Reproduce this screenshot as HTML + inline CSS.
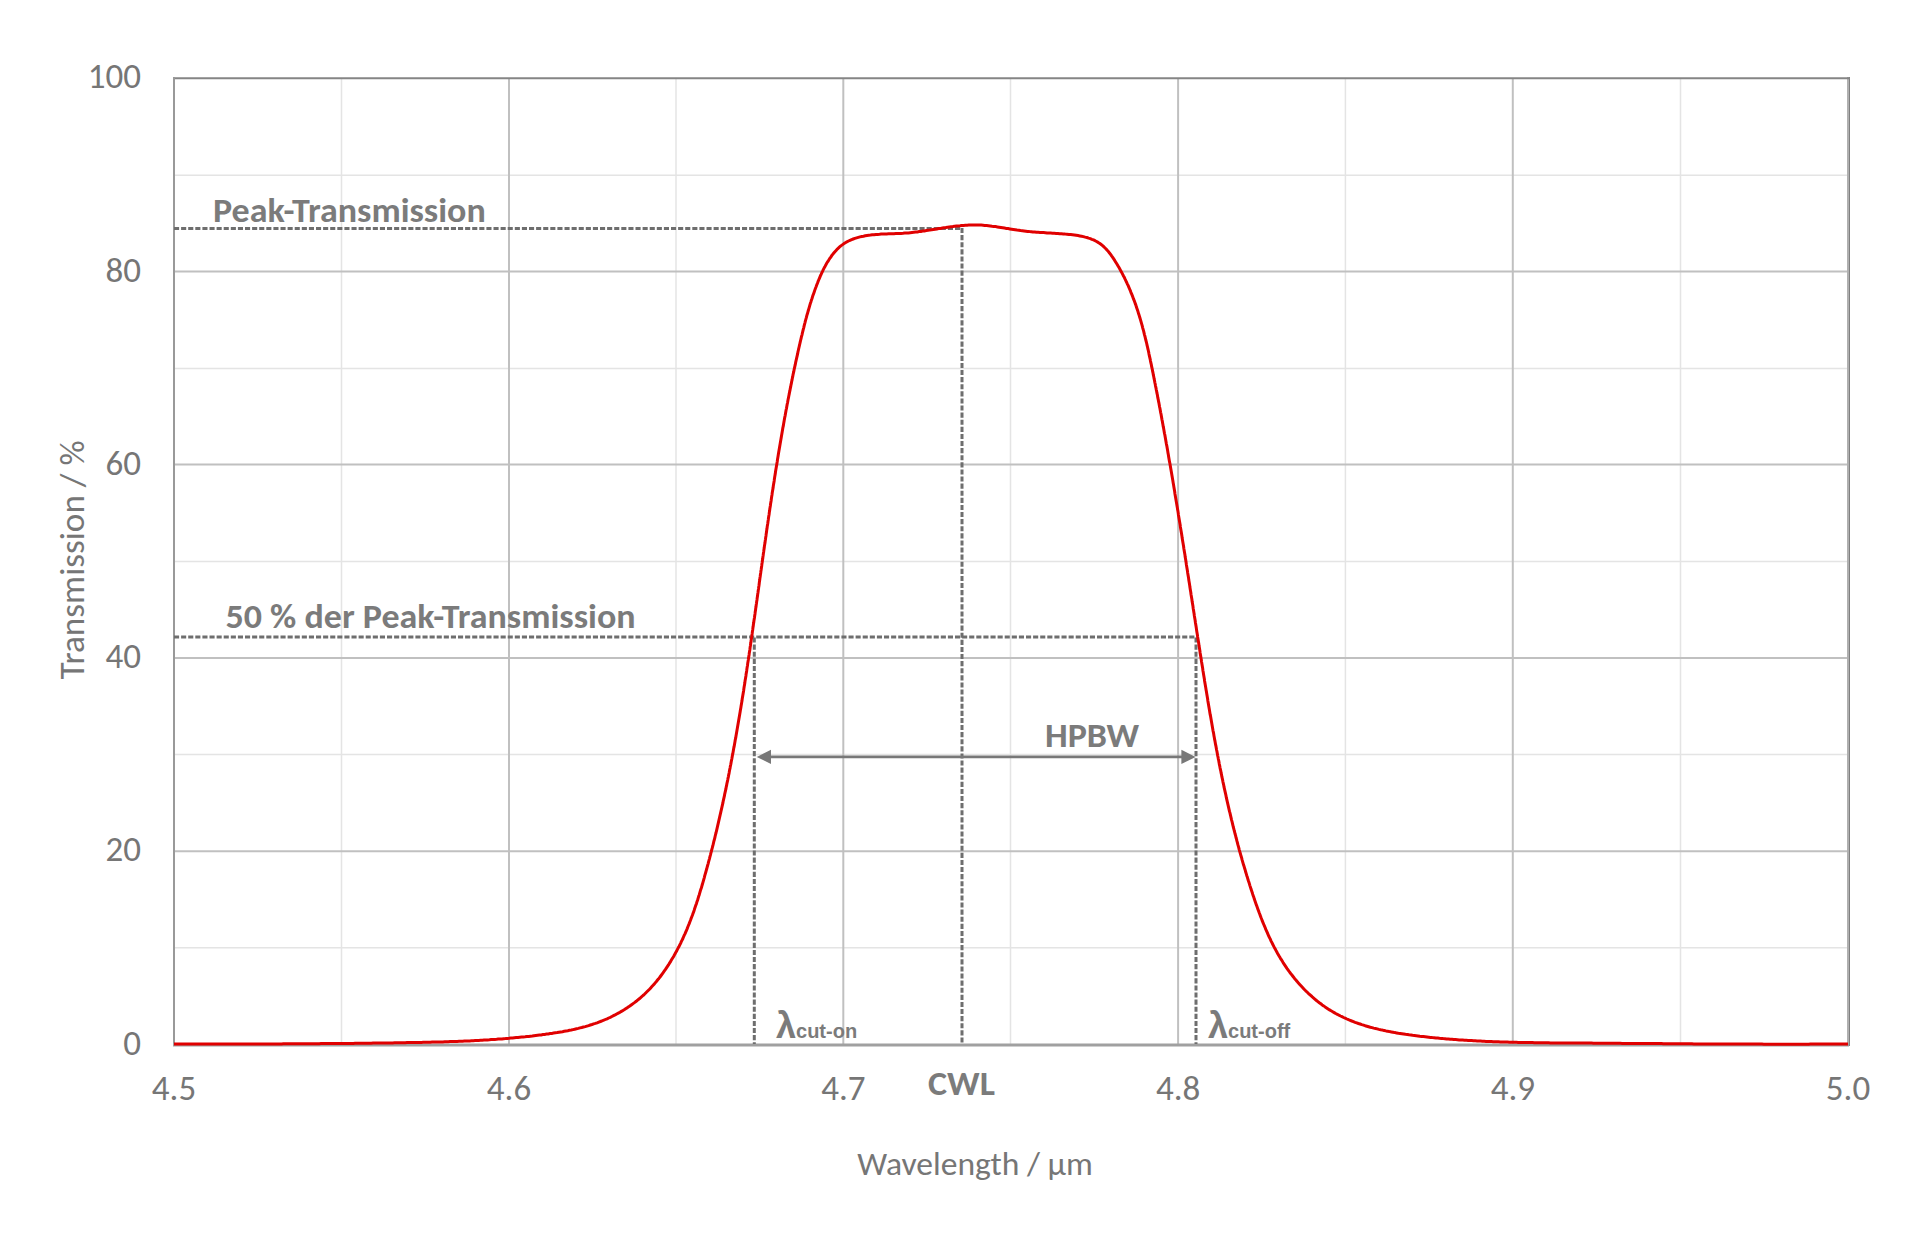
<!DOCTYPE html>
<html><head><meta charset="utf-8"><title>Transmission</title>
<style>html,body{margin:0;padding:0;background:#fff;}svg{display:block;}</style>
</head><body>
<svg width="1920" height="1238" viewBox="0 0 1920 1238">
<rect width="1920" height="1238" fill="#fff"/>
<line x1="341.5" y1="78" x2="341.5" y2="1044" stroke="#e4e4e4" stroke-width="1.5"/>
<line x1="676" y1="78" x2="676" y2="1044" stroke="#e4e4e4" stroke-width="1.5"/>
<line x1="1010.5" y1="78" x2="1010.5" y2="1044" stroke="#e4e4e4" stroke-width="1.5"/>
<line x1="1345.4" y1="78" x2="1345.4" y2="1044" stroke="#e4e4e4" stroke-width="1.5"/>
<line x1="1680.5" y1="78" x2="1680.5" y2="1044" stroke="#e4e4e4" stroke-width="1.5"/>
<line x1="174" y1="175.2" x2="1848" y2="175.2" stroke="#e4e4e4" stroke-width="1.5"/>
<line x1="174" y1="368.4" x2="1848" y2="368.4" stroke="#e4e4e4" stroke-width="1.5"/>
<line x1="174" y1="561.5" x2="1848" y2="561.5" stroke="#e4e4e4" stroke-width="1.5"/>
<line x1="174" y1="754.4" x2="1848" y2="754.4" stroke="#e4e4e4" stroke-width="1.5"/>
<line x1="174" y1="947.8" x2="1848" y2="947.8" stroke="#e4e4e4" stroke-width="1.5"/>
<line x1="509" y1="78" x2="509" y2="1044" stroke="#c0c0c0" stroke-width="2"/>
<line x1="843.3" y1="78" x2="843.3" y2="1044" stroke="#c0c0c0" stroke-width="2"/>
<line x1="1178.1" y1="78" x2="1178.1" y2="1044" stroke="#c0c0c0" stroke-width="2"/>
<line x1="1512.8" y1="78" x2="1512.8" y2="1044" stroke="#c0c0c0" stroke-width="2"/>
<line x1="174" y1="271.6" x2="1848" y2="271.6" stroke="#c0c0c0" stroke-width="2"/>
<line x1="174" y1="464.6" x2="1848" y2="464.6" stroke="#c0c0c0" stroke-width="2"/>
<line x1="174" y1="657.9" x2="1848" y2="657.9" stroke="#c0c0c0" stroke-width="2"/>
<line x1="174" y1="851.2" x2="1848" y2="851.2" stroke="#c0c0c0" stroke-width="2"/>
<line x1="1848" y1="77" x2="1848" y2="1046" stroke="#b0b0b0" stroke-width="2"/>
<line x1="1849.5" y1="77" x2="1849.5" y2="1046" stroke="#808080" stroke-width="1"/>
<line x1="173" y1="78.3" x2="1850" y2="78.3" stroke="#858585" stroke-width="2"/>
<line x1="174" y1="77" x2="174" y2="1046" stroke="#999" stroke-width="2"/>
<line x1="173" y1="1045" x2="1849" y2="1045" stroke="#a0a0a0" stroke-width="3"/>
<line x1="174" y1="228.5" x2="962" y2="228.5" stroke="#6e6e6e" stroke-width="3" stroke-dasharray="5.1 2"/>
<line x1="962" y1="228" x2="962" y2="1044" stroke="#6e6e6e" stroke-width="3" stroke-dasharray="5.1 2"/>
<line x1="174" y1="637" x2="1196" y2="637" stroke="#6e6e6e" stroke-width="3" stroke-dasharray="5.1 2"/>
<line x1="754.3" y1="637.5" x2="754.3" y2="1044" stroke="#6e6e6e" stroke-width="3" stroke-dasharray="5.1 2"/>
<line x1="1196" y1="637.5" x2="1196" y2="1044" stroke="#6e6e6e" stroke-width="3" stroke-dasharray="5.1 2"/>
<line x1="768" y1="756.9" x2="1184" y2="756.9" stroke="#787878" stroke-width="2.6"/>
<path d="M756.8,756.9 L771,749.8 L771,764 Z" fill="#787878"/>
<path d="M1195.6,756.9 L1181.4,749.8 L1181.4,764 Z" fill="#787878"/>
<path d="M174.0,1044.0 L175.8,1044.0 L177.6,1044.0 L179.4,1044.0 L181.2,1044.0 L183.0,1044.0 L184.8,1044.0 L186.5,1044.0 L188.3,1044.0 L190.1,1044.0 L191.9,1044.0 L193.7,1044.0 L195.5,1044.0 L197.3,1044.0 L199.1,1044.0 L200.9,1044.0 L202.7,1044.0 L204.5,1044.0 L206.3,1044.0 L208.1,1044.0 L209.9,1044.0 L211.6,1044.0 L213.4,1044.0 L215.2,1044.0 L217.0,1044.0 L218.8,1044.0 L220.6,1044.0 L222.4,1044.0 L224.2,1044.0 L226.0,1044.0 L227.8,1044.0 L229.6,1044.0 L231.4,1044.0 L233.2,1044.0 L234.9,1044.0 L236.7,1044.0 L238.5,1044.0 L240.3,1044.0 L242.1,1044.0 L243.9,1044.0 L245.7,1044.0 L247.5,1044.0 L249.3,1044.0 L251.1,1044.0 L252.9,1043.9 L254.7,1043.9 L256.5,1043.9 L258.3,1043.9 L260.0,1043.9 L261.8,1043.9 L263.6,1043.9 L265.4,1043.9 L267.2,1043.9 L269.0,1043.9 L270.8,1043.9 L272.6,1043.9 L274.4,1043.9 L276.2,1043.9 L278.0,1043.9 L279.8,1043.9 L281.6,1043.9 L283.3,1043.8 L285.1,1043.8 L286.9,1043.8 L288.7,1043.8 L290.5,1043.8 L292.3,1043.8 L294.1,1043.8 L295.9,1043.8 L297.7,1043.8 L299.5,1043.8 L301.3,1043.8 L303.1,1043.8 L304.9,1043.7 L306.7,1043.7 L308.4,1043.7 L310.2,1043.7 L312.0,1043.7 L313.8,1043.7 L315.6,1043.7 L317.4,1043.7 L319.2,1043.7 L321.0,1043.6 L322.8,1043.6 L324.6,1043.6 L326.4,1043.6 L328.2,1043.6 L330.0,1043.6 L331.7,1043.6 L333.5,1043.5 L335.3,1043.5 L337.1,1043.5 L338.9,1043.5 L340.7,1043.5 L342.5,1043.5 L344.3,1043.5 L346.1,1043.4 L347.9,1043.4 L349.7,1043.4 L351.5,1043.4 L353.3,1043.4 L355.0,1043.3 L356.8,1043.3 L358.6,1043.3 L360.4,1043.3 L362.2,1043.3 L364.0,1043.2 L365.8,1043.2 L367.6,1043.2 L369.4,1043.2 L371.2,1043.2 L373.0,1043.1 L374.8,1043.1 L376.6,1043.1 L378.4,1043.1 L380.1,1043.0 L381.9,1043.0 L383.7,1043.0 L385.5,1043.0 L387.3,1043.0 L389.1,1042.9 L390.9,1042.9 L392.7,1042.9 L394.5,1042.8 L396.3,1042.8 L398.1,1042.8 L399.9,1042.8 L401.7,1042.7 L403.4,1042.7 L405.2,1042.7 L407.0,1042.6 L408.8,1042.6 L410.6,1042.6 L412.4,1042.6 L414.2,1042.5 L416.0,1042.5 L417.8,1042.5 L419.6,1042.4 L421.4,1042.4 L423.2,1042.3 L425.0,1042.3 L426.7,1042.3 L428.5,1042.2 L430.3,1042.2 L432.1,1042.1 L433.9,1042.1 L435.7,1042.1 L437.5,1042.0 L439.3,1042.0 L441.1,1041.9 L442.9,1041.9 L444.7,1041.8 L446.5,1041.7 L448.2,1041.7 L450.0,1041.6 L451.8,1041.6 L453.6,1041.5 L455.4,1041.4 L457.2,1041.4 L459.0,1041.3 L460.8,1041.2 L462.6,1041.2 L464.4,1041.1 L466.2,1041.0 L467.9,1040.9 L469.7,1040.9 L471.5,1040.8 L473.3,1040.7 L475.1,1040.6 L476.9,1040.5 L478.7,1040.4 L480.5,1040.3 L482.3,1040.2 L484.0,1040.1 L485.8,1040.0 L487.6,1039.9 L489.4,1039.8 L491.2,1039.6 L493.0,1039.5 L494.8,1039.4 L496.6,1039.3 L498.3,1039.1 L500.1,1039.0 L501.9,1038.9 L503.7,1038.7 L505.5,1038.6 L507.3,1038.4 L509.1,1038.3 L510.8,1038.1 L512.6,1038.0 L514.4,1037.8 L516.2,1037.6 L518.0,1037.5 L519.8,1037.3 L521.6,1037.1 L523.3,1036.9 L525.1,1036.8 L526.9,1036.6 L528.7,1036.4 L530.5,1036.2 L532.3,1036.0 L534.0,1035.7 L535.8,1035.5 L537.6,1035.3 L539.4,1035.1 L541.2,1034.9 L542.9,1034.6 L544.7,1034.4 L546.5,1034.1 L548.3,1033.9 L550.1,1033.6 L551.8,1033.4 L553.6,1033.1 L555.4,1032.8 L557.2,1032.6 L558.9,1032.3 L560.7,1032.0 L562.5,1031.7 L564.2,1031.3 L566.0,1031.0 L567.8,1030.7 L569.5,1030.3 L571.3,1030.0 L573.0,1029.6 L574.8,1029.2 L576.5,1028.8 L578.3,1028.4 L580.0,1027.9 L581.7,1027.5 L583.5,1027.0 L585.2,1026.6 L586.9,1026.1 L588.6,1025.6 L590.3,1025.0 L592.0,1024.5 L593.7,1023.9 L595.4,1023.4 L597.1,1022.8 L598.8,1022.1 L600.4,1021.5 L602.1,1020.8 L603.8,1020.2 L605.4,1019.5 L607.1,1018.8 L608.7,1018.0 L610.3,1017.3 L611.9,1016.5 L613.5,1015.7 L615.1,1014.9 L616.7,1014.0 L618.3,1013.1 L619.9,1012.3 L621.4,1011.4 L623.0,1010.4 L624.5,1009.5 L626.0,1008.5 L627.5,1007.6 L629.0,1006.6 L630.5,1005.5 L631.9,1004.5 L633.4,1003.4 L634.8,1002.4 L636.2,1001.3 L637.6,1000.1 L639.0,999.0 L640.4,997.8 L641.7,996.7 L643.0,995.5 L644.4,994.3 L645.7,993.0 L646.9,991.8 L648.2,990.5 L649.5,989.2 L650.7,987.9 L651.9,986.6 L653.1,985.3 L654.3,983.9 L655.4,982.6 L656.6,981.2 L657.7,979.8 L658.9,978.4 L660.0,977.0 L661.1,975.5 L662.1,974.1 L663.2,972.6 L664.2,971.2 L665.3,969.7 L666.3,968.2 L667.3,966.7 L668.3,965.2 L669.2,963.7 L670.2,962.2 L671.1,960.6 L672.0,959.1 L673.0,957.5 L673.9,956.0 L674.7,954.4 L675.6,952.8 L676.5,951.3 L677.3,949.7 L678.1,948.1 L679.0,946.5 L679.8,944.9 L680.6,943.3 L681.3,941.7 L682.1,940.1 L682.9,938.5 L683.6,936.8 L684.3,935.2 L685.1,933.6 L685.8,931.9 L686.5,930.3 L687.2,928.6 L687.8,927.0 L688.5,925.3 L689.2,923.6 L689.8,922.0 L690.5,920.3 L691.1,918.6 L691.7,917.0 L692.4,915.3 L693.0,913.6 L693.6,911.9 L694.2,910.2 L694.7,908.5 L695.3,906.8 L695.9,905.1 L696.5,903.4 L697.0,901.7 L697.6,900.0 L698.1,898.3 L698.6,896.6 L699.2,894.9 L699.7,893.2 L700.2,891.4 L700.7,889.7 L701.3,888.0 L701.8,886.3 L702.3,884.5 L702.8,882.8 L703.3,881.1 L703.8,879.4 L704.3,877.6 L704.7,875.9 L705.2,874.2 L705.7,872.5 L706.2,870.7 L706.7,869.0 L707.1,867.3 L707.6,865.5 L708.1,863.8 L708.5,862.1 L709.0,860.3 L709.5,858.6 L709.9,856.9 L710.4,855.1 L710.8,853.4 L711.3,851.7 L711.7,849.9 L712.2,848.2 L712.6,846.5 L713.1,844.7 L713.5,843.0 L713.9,841.2 L714.4,839.5 L714.8,837.8 L715.2,836.0 L715.6,834.3 L716.1,832.5 L716.5,830.8 L716.9,829.1 L717.3,827.3 L717.7,825.6 L718.1,823.8 L718.5,822.1 L718.9,820.3 L719.3,818.6 L719.7,816.9 L720.1,815.1 L720.5,813.4 L720.9,811.6 L721.3,809.9 L721.7,808.1 L722.1,806.4 L722.5,804.6 L722.9,802.9 L723.2,801.1 L723.6,799.4 L724.0,797.6 L724.4,795.9 L724.7,794.1 L725.1,792.4 L725.5,790.6 L725.9,788.9 L726.2,787.1 L726.6,785.4 L726.9,783.6 L727.3,781.9 L727.7,780.1 L728.0,778.3 L728.4,776.6 L728.7,774.8 L729.1,773.1 L729.4,771.3 L729.7,769.6 L730.1,767.8 L730.4,766.0 L730.8,764.3 L731.1,762.5 L731.4,760.8 L731.8,759.0 L732.1,757.3 L732.4,755.5 L732.8,753.7 L733.1,752.0 L733.4,750.2 L733.7,748.4 L734.1,746.7 L734.4,744.9 L734.7,743.2 L735.0,741.4 L735.3,739.6 L735.7,737.9 L736.0,736.1 L736.3,734.3 L736.6,732.6 L736.9,730.8 L737.2,729.1 L737.5,727.3 L737.8,725.5 L738.1,723.8 L738.4,722.0 L738.7,720.2 L739.0,718.5 L739.3,716.7 L739.6,714.9 L739.9,713.2 L740.2,711.4 L740.5,709.6 L740.8,707.9 L741.1,706.1 L741.4,704.3 L741.7,702.6 L742.0,700.8 L742.2,699.0 L742.5,697.2 L742.8,695.5 L743.1,693.7 L743.4,691.9 L743.7,690.2 L743.9,688.4 L744.2,686.6 L744.5,684.9 L744.8,683.1 L745.0,681.3 L745.3,679.5 L745.6,677.8 L745.9,676.0 L746.1,674.2 L746.4,672.4 L746.7,670.7 L746.9,668.9 L747.2,667.1 L747.5,665.4 L747.7,663.6 L748.0,661.8 L748.3,660.0 L748.5,658.3 L748.8,656.5 L749.1,654.7 L749.3,652.9 L749.6,651.2 L749.9,649.4 L750.1,647.6 L750.4,645.8 L750.6,644.1 L750.9,642.3 L751.1,640.5 L751.4,638.7 L751.7,637.0 L751.9,635.2 L752.2,633.4 L752.4,631.6 L752.7,629.9 L752.9,628.1 L753.2,626.3 L753.4,624.5 L753.7,622.8 L753.9,621.0 L754.2,619.2 L754.5,617.4 L754.7,615.7 L755.0,613.9 L755.2,612.1 L755.5,610.3 L755.7,608.5 L756.0,606.8 L756.2,605.0 L756.5,603.2 L756.7,601.4 L757.0,599.7 L757.2,597.9 L757.5,596.1 L757.7,594.3 L758.0,592.5 L758.2,590.8 L758.5,589.0 L758.7,587.2 L759.0,585.4 L759.2,583.7 L759.4,581.9 L759.7,580.1 L759.9,578.3 L760.2,576.5 L760.4,574.8 L760.7,573.0 L760.9,571.2 L761.2,569.4 L761.4,567.7 L761.7,565.9 L761.9,564.1 L762.2,562.3 L762.4,560.6 L762.7,558.8 L762.9,557.0 L763.2,555.2 L763.4,553.4 L763.7,551.7 L763.9,549.9 L764.2,548.1 L764.4,546.3 L764.7,544.6 L765.0,542.8 L765.2,541.0 L765.5,539.2 L765.7,537.4 L766.0,535.7 L766.2,533.9 L766.5,532.1 L766.7,530.3 L767.0,528.6 L767.2,526.8 L767.5,525.0 L767.8,523.2 L768.0,521.5 L768.3,519.7 L768.5,517.9 L768.8,516.1 L769.1,514.4 L769.3,512.6 L769.6,510.8 L769.8,509.0 L770.1,507.3 L770.4,505.5 L770.6,503.7 L770.9,501.9 L771.2,500.2 L771.4,498.4 L771.7,496.6 L772.0,494.8 L772.2,493.1 L772.5,491.3 L772.8,489.5 L773.1,487.8 L773.3,486.0 L773.6,484.2 L773.9,482.4 L774.2,480.7 L774.4,478.9 L774.7,477.1 L775.0,475.3 L775.3,473.6 L775.5,471.8 L775.8,470.0 L776.1,468.3 L776.4,466.5 L776.7,464.7 L777.0,463.0 L777.3,461.2 L777.5,459.4 L777.8,457.7 L778.1,455.9 L778.4,454.1 L778.7,452.3 L779.0,450.6 L779.3,448.8 L779.6,447.0 L779.9,445.3 L780.2,443.5 L780.5,441.7 L780.8,440.0 L781.1,438.2 L781.4,436.5 L781.7,434.7 L782.0,432.9 L782.3,431.2 L782.6,429.4 L782.9,427.6 L783.3,425.9 L783.6,424.1 L783.9,422.3 L784.2,420.6 L784.5,418.8 L784.8,417.1 L785.2,415.3 L785.5,413.5 L785.8,411.8 L786.1,410.0 L786.5,408.3 L786.8,406.5 L787.1,404.7 L787.5,403.0 L787.8,401.2 L788.1,399.5 L788.5,397.7 L788.8,396.0 L789.2,394.2 L789.5,392.4 L789.9,390.7 L790.2,388.9 L790.6,387.2 L790.9,385.4 L791.3,383.7 L791.6,381.9 L792.0,380.2 L792.3,378.4 L792.7,376.7 L793.0,374.9 L793.4,373.2 L793.8,371.4 L794.1,369.7 L794.5,367.9 L794.9,366.2 L795.3,364.4 L795.6,362.7 L796.0,360.9 L796.4,359.2 L796.8,357.4 L797.2,355.7 L797.6,353.9 L797.9,352.2 L798.3,350.5 L798.7,348.7 L799.1,347.0 L799.5,345.2 L799.9,343.5 L800.3,341.7 L800.7,340.0 L801.1,338.3 L801.5,336.5 L802.0,334.8 L802.4,333.0 L802.8,331.3 L803.2,329.6 L803.7,327.8 L804.1,326.1 L804.5,324.4 L805.0,322.6 L805.4,320.9 L805.9,319.2 L806.4,317.4 L806.8,315.7 L807.3,314.0 L807.8,312.3 L808.3,310.5 L808.8,308.8 L809.3,307.1 L809.8,305.4 L810.3,303.6 L810.9,301.9 L811.4,300.2 L812.0,298.5 L812.5,296.8 L813.1,295.1 L813.7,293.4 L814.3,291.7 L814.9,289.9 L815.5,288.2 L816.2,286.5 L816.8,284.8 L817.5,283.1 L818.1,281.4 L818.8,279.7 L819.5,278.1 L820.2,276.4 L821.0,274.7 L821.7,273.0 L822.5,271.4 L823.3,269.7 L824.1,268.1 L825.0,266.5 L825.8,264.9 L826.7,263.3 L827.6,261.8 L828.6,260.3 L829.6,258.7 L830.6,257.3 L831.6,255.8 L832.7,254.4 L833.8,253.0 L834.9,251.7 L836.1,250.4 L837.3,249.1 L838.6,247.9 L839.9,246.7 L841.2,245.6 L842.6,244.6 L844.0,243.6 L845.4,242.7 L846.9,241.8 L848.5,241.0 L850.0,240.3 L851.6,239.6 L853.2,239.0 L854.9,238.4 L856.6,237.9 L858.3,237.4 L860.0,236.9 L861.7,236.5 L863.5,236.2 L865.2,235.8 L867.0,235.5 L868.8,235.3 L870.5,235.1 L872.3,234.8 L874.1,234.7 L875.9,234.5 L877.7,234.4 L879.5,234.3 L881.3,234.1 L883.1,234.1 L884.9,234.0 L886.7,233.9 L888.5,233.8 L890.4,233.8 L892.2,233.7 L894.0,233.7 L895.8,233.6 L897.6,233.5 L899.4,233.4 L901.2,233.4 L903.0,233.3 L904.8,233.1 L906.6,233.0 L908.4,232.9 L910.2,232.7 L912.0,232.5 L913.8,232.3 L915.6,232.1 L917.4,231.9 L919.2,231.6 L920.9,231.4 L922.7,231.1 L924.5,230.9 L926.3,230.6 L928.1,230.3 L929.8,230.1 L931.6,229.8 L933.4,229.5 L935.2,229.2 L936.9,228.9 L938.7,228.6 L940.5,228.4 L942.3,228.1 L944.0,227.8 L945.8,227.6 L947.6,227.3 L949.3,227.0 L951.1,226.8 L952.9,226.6 L954.6,226.3 L956.4,226.1 L958.2,225.9 L960.0,225.8 L961.7,225.6 L963.5,225.4 L965.3,225.3 L967.1,225.2 L968.8,225.1 L970.6,225.0 L972.4,225.0 L974.2,225.0 L975.9,225.0 L977.7,225.0 L979.5,225.1 L981.3,225.1 L983.1,225.2 L984.8,225.4 L986.6,225.5 L988.4,225.7 L990.2,225.9 L992.0,226.2 L993.8,226.4 L995.6,226.6 L997.4,226.9 L999.1,227.2 L1000.9,227.5 L1002.7,227.8 L1004.5,228.1 L1006.3,228.4 L1008.1,228.6 L1009.9,228.9 L1011.6,229.2 L1013.4,229.5 L1015.2,229.8 L1017.0,230.1 L1018.8,230.3 L1020.5,230.6 L1022.3,230.8 L1024.1,231.0 L1025.9,231.2 L1027.6,231.4 L1029.4,231.6 L1031.2,231.7 L1032.9,231.9 L1034.7,232.0 L1036.5,232.2 L1038.2,232.3 L1040.0,232.4 L1041.8,232.5 L1043.6,232.6 L1045.3,232.7 L1047.1,232.9 L1048.9,233.0 L1050.7,233.1 L1052.5,233.2 L1054.3,233.3 L1056.1,233.4 L1057.9,233.5 L1059.7,233.7 L1061.5,233.8 L1063.3,233.9 L1065.2,234.1 L1067.0,234.2 L1068.9,234.4 L1070.7,234.6 L1072.5,234.8 L1074.4,235.0 L1076.2,235.3 L1078.0,235.6 L1079.8,235.9 L1081.6,236.2 L1083.4,236.6 L1085.2,237.1 L1086.9,237.5 L1088.6,238.1 L1090.3,238.6 L1091.9,239.3 L1093.5,239.9 L1095.1,240.7 L1096.6,241.5 L1098.1,242.4 L1099.5,243.3 L1100.9,244.3 L1102.3,245.4 L1103.6,246.5 L1104.8,247.7 L1106.1,249.0 L1107.2,250.3 L1108.4,251.6 L1109.5,253.0 L1110.6,254.4 L1111.6,255.9 L1112.7,257.4 L1113.7,258.9 L1114.7,260.4 L1115.6,261.9 L1116.6,263.5 L1117.5,265.0 L1118.4,266.6 L1119.3,268.1 L1120.2,269.7 L1121.0,271.3 L1121.9,272.8 L1122.7,274.4 L1123.5,276.0 L1124.4,277.6 L1125.1,279.2 L1125.9,280.8 L1126.7,282.5 L1127.4,284.1 L1128.2,285.7 L1128.9,287.3 L1129.6,289.0 L1130.3,290.6 L1130.9,292.3 L1131.6,293.9 L1132.3,295.6 L1132.9,297.2 L1133.5,298.9 L1134.2,300.6 L1134.8,302.3 L1135.4,303.9 L1136.0,305.6 L1136.5,307.3 L1137.1,309.0 L1137.7,310.7 L1138.2,312.4 L1138.7,314.1 L1139.3,315.8 L1139.8,317.5 L1140.3,319.2 L1140.8,320.9 L1141.3,322.7 L1141.8,324.4 L1142.3,326.1 L1142.7,327.8 L1143.2,329.6 L1143.7,331.3 L1144.1,333.1 L1144.5,334.8 L1145.0,336.5 L1145.4,338.3 L1145.8,340.0 L1146.3,341.8 L1146.7,343.5 L1147.1,345.3 L1147.5,347.0 L1147.9,348.8 L1148.3,350.5 L1148.7,352.3 L1149.0,354.1 L1149.4,355.8 L1149.8,357.6 L1150.2,359.3 L1150.5,361.1 L1150.9,362.9 L1151.3,364.6 L1151.6,366.4 L1152.0,368.2 L1152.4,369.9 L1152.7,371.7 L1153.1,373.4 L1153.4,375.2 L1153.8,377.0 L1154.1,378.7 L1154.5,380.5 L1154.8,382.3 L1155.2,384.0 L1155.5,385.8 L1155.9,387.6 L1156.2,389.3 L1156.6,391.1 L1156.9,392.9 L1157.3,394.6 L1157.6,396.4 L1157.9,398.2 L1158.3,399.9 L1158.6,401.7 L1159.0,403.4 L1159.3,405.2 L1159.6,407.0 L1160.0,408.7 L1160.3,410.5 L1160.6,412.3 L1161.0,414.0 L1161.3,415.8 L1161.6,417.6 L1161.9,419.3 L1162.3,421.1 L1162.6,422.9 L1162.9,424.6 L1163.2,426.4 L1163.6,428.2 L1163.9,429.9 L1164.2,431.7 L1164.5,433.5 L1164.9,435.2 L1165.2,437.0 L1165.5,438.7 L1165.8,440.5 L1166.1,442.3 L1166.4,444.0 L1166.8,445.8 L1167.1,447.6 L1167.4,449.3 L1167.7,451.1 L1168.0,452.9 L1168.3,454.6 L1168.6,456.4 L1168.9,458.2 L1169.2,459.9 L1169.5,461.7 L1169.9,463.5 L1170.2,465.2 L1170.5,467.0 L1170.8,468.8 L1171.1,470.5 L1171.4,472.3 L1171.7,474.1 L1172.0,475.8 L1172.3,477.6 L1172.6,479.3 L1172.9,481.1 L1173.2,482.9 L1173.5,484.6 L1173.8,486.4 L1174.1,488.2 L1174.4,489.9 L1174.7,491.7 L1174.9,493.5 L1175.2,495.2 L1175.5,497.0 L1175.8,498.8 L1176.1,500.5 L1176.4,502.3 L1176.7,504.1 L1177.0,505.8 L1177.3,507.6 L1177.6,509.4 L1177.9,511.1 L1178.2,512.9 L1178.4,514.7 L1178.7,516.4 L1179.0,518.2 L1179.3,520.0 L1179.6,521.7 L1179.9,523.5 L1180.2,525.3 L1180.4,527.0 L1180.7,528.8 L1181.0,530.6 L1181.3,532.3 L1181.6,534.1 L1181.9,535.9 L1182.1,537.6 L1182.4,539.4 L1182.7,541.2 L1183.0,542.9 L1183.3,544.7 L1183.6,546.5 L1183.8,548.2 L1184.1,550.0 L1184.4,551.8 L1184.7,553.5 L1185.0,555.3 L1185.2,557.1 L1185.5,558.8 L1185.8,560.6 L1186.1,562.4 L1186.3,564.2 L1186.6,565.9 L1186.9,567.7 L1187.2,569.5 L1187.5,571.2 L1187.7,573.0 L1188.0,574.8 L1188.3,576.5 L1188.6,578.3 L1188.8,580.1 L1189.1,581.8 L1189.4,583.6 L1189.7,585.4 L1189.9,587.1 L1190.2,588.9 L1190.5,590.7 L1190.8,592.5 L1191.0,594.2 L1191.3,596.0 L1191.6,597.8 L1191.9,599.5 L1192.1,601.3 L1192.4,603.1 L1192.7,604.8 L1193.0,606.6 L1193.2,608.4 L1193.5,610.1 L1193.8,611.9 L1194.1,613.7 L1194.3,615.5 L1194.6,617.2 L1194.9,619.0 L1195.2,620.8 L1195.4,622.5 L1195.7,624.3 L1196.0,626.1 L1196.3,627.9 L1196.5,629.6 L1196.8,631.4 L1197.1,633.2 L1197.4,634.9 L1197.6,636.7 L1197.9,638.5 L1198.2,640.2 L1198.5,642.0 L1198.8,643.8 L1199.0,645.6 L1199.3,647.3 L1199.6,649.1 L1199.9,650.9 L1200.1,652.7 L1200.4,654.4 L1200.7,656.2 L1201.0,658.0 L1201.3,659.7 L1201.5,661.5 L1201.8,663.3 L1202.1,665.1 L1202.4,666.8 L1202.7,668.6 L1202.9,670.4 L1203.2,672.1 L1203.5,673.9 L1203.8,675.7 L1204.1,677.5 L1204.4,679.2 L1204.6,681.0 L1204.9,682.8 L1205.2,684.5 L1205.5,686.3 L1205.8,688.1 L1206.1,689.9 L1206.4,691.6 L1206.7,693.4 L1207.0,695.2 L1207.3,696.9 L1207.6,698.7 L1207.8,700.5 L1208.1,702.3 L1208.4,704.0 L1208.7,705.8 L1209.0,707.6 L1209.3,709.3 L1209.6,711.1 L1209.9,712.9 L1210.2,714.7 L1210.6,716.4 L1210.9,718.2 L1211.2,720.0 L1211.5,721.7 L1211.8,723.5 L1212.1,725.3 L1212.4,727.0 L1212.7,728.8 L1213.0,730.6 L1213.4,732.3 L1213.7,734.1 L1214.0,735.9 L1214.3,737.6 L1214.6,739.4 L1215.0,741.2 L1215.3,742.9 L1215.6,744.7 L1216.0,746.4 L1216.3,748.2 L1216.6,750.0 L1217.0,751.7 L1217.3,753.5 L1217.6,755.3 L1218.0,757.0 L1218.3,758.8 L1218.7,760.5 L1219.0,762.3 L1219.3,764.1 L1219.7,765.8 L1220.0,767.6 L1220.4,769.3 L1220.8,771.1 L1221.1,772.9 L1221.5,774.6 L1221.8,776.4 L1222.2,778.1 L1222.6,779.9 L1222.9,781.6 L1223.3,783.4 L1223.7,785.1 L1224.0,786.9 L1224.4,788.6 L1224.8,790.4 L1225.2,792.2 L1225.6,793.9 L1226.0,795.7 L1226.3,797.4 L1226.7,799.2 L1227.1,800.9 L1227.5,802.6 L1227.9,804.4 L1228.3,806.1 L1228.7,807.9 L1229.1,809.6 L1229.5,811.4 L1230.0,813.1 L1230.4,814.9 L1230.8,816.6 L1231.2,818.4 L1231.6,820.1 L1232.1,821.8 L1232.5,823.6 L1232.9,825.3 L1233.3,827.0 L1233.8,828.8 L1234.2,830.5 L1234.7,832.3 L1235.1,834.0 L1235.6,835.7 L1236.0,837.5 L1236.5,839.2 L1236.9,840.9 L1237.4,842.7 L1237.8,844.4 L1238.3,846.1 L1238.8,847.8 L1239.2,849.6 L1239.7,851.3 L1240.2,853.0 L1240.7,854.8 L1241.2,856.5 L1241.7,858.2 L1242.1,859.9 L1242.6,861.6 L1243.1,863.4 L1243.6,865.1 L1244.2,866.8 L1244.7,868.5 L1245.2,870.2 L1245.7,872.0 L1246.2,873.7 L1246.7,875.4 L1247.3,877.1 L1247.8,878.8 L1248.3,880.5 L1248.9,882.2 L1249.4,883.9 L1249.9,885.6 L1250.5,887.4 L1251.0,889.1 L1251.6,890.8 L1252.2,892.5 L1252.7,894.2 L1253.3,895.9 L1253.9,897.6 L1254.4,899.3 L1255.0,901.0 L1255.6,902.7 L1256.2,904.4 L1256.8,906.1 L1257.4,907.7 L1258.0,909.4 L1258.6,911.1 L1259.2,912.8 L1259.9,914.5 L1260.5,916.2 L1261.1,917.8 L1261.8,919.5 L1262.4,921.2 L1263.1,922.8 L1263.8,924.5 L1264.5,926.1 L1265.2,927.8 L1265.8,929.4 L1266.6,931.1 L1267.3,932.7 L1268.0,934.3 L1268.7,936.0 L1269.5,937.6 L1270.3,939.2 L1271.0,940.8 L1271.8,942.4 L1272.6,944.0 L1273.4,945.6 L1274.2,947.2 L1275.1,948.8 L1275.9,950.3 L1276.8,951.9 L1277.6,953.5 L1278.5,955.0 L1279.4,956.6 L1280.3,958.1 L1281.3,959.6 L1282.2,961.1 L1283.1,962.6 L1284.1,964.1 L1285.1,965.6 L1286.1,967.1 L1287.1,968.6 L1288.2,970.1 L1289.2,971.5 L1290.3,973.0 L1291.4,974.4 L1292.5,975.8 L1293.6,977.2 L1294.7,978.7 L1295.9,980.0 L1297.1,981.4 L1298.2,982.8 L1299.5,984.2 L1300.7,985.5 L1301.9,986.8 L1303.2,988.2 L1304.4,989.5 L1305.7,990.8 L1307.0,992.0 L1308.3,993.3 L1309.6,994.5 L1311.0,995.7 L1312.3,996.9 L1313.7,998.1 L1315.1,999.3 L1316.5,1000.5 L1317.9,1001.6 L1319.3,1002.7 L1320.8,1003.8 L1322.2,1004.9 L1323.7,1005.9 L1325.1,1006.9 L1326.6,1007.9 L1328.1,1008.9 L1329.6,1009.9 L1331.1,1010.8 L1332.7,1011.7 L1334.2,1012.6 L1335.7,1013.5 L1337.3,1014.3 L1338.9,1015.2 L1340.5,1016.0 L1342.0,1016.7 L1343.6,1017.5 L1345.2,1018.2 L1346.9,1019.0 L1348.5,1019.7 L1350.1,1020.3 L1351.8,1021.0 L1353.4,1021.6 L1355.1,1022.3 L1356.7,1022.9 L1358.4,1023.5 L1360.1,1024.0 L1361.8,1024.6 L1363.5,1025.1 L1365.1,1025.7 L1366.9,1026.2 L1368.6,1026.7 L1370.3,1027.2 L1372.0,1027.6 L1373.7,1028.1 L1375.5,1028.5 L1377.2,1028.9 L1378.9,1029.4 L1380.7,1029.8 L1382.4,1030.1 L1384.2,1030.5 L1386.0,1030.9 L1387.7,1031.2 L1389.5,1031.6 L1391.3,1031.9 L1393.0,1032.2 L1394.8,1032.6 L1396.6,1032.9 L1398.4,1033.2 L1400.1,1033.4 L1401.9,1033.7 L1403.7,1034.0 L1405.5,1034.3 L1407.3,1034.5 L1409.1,1034.8 L1410.9,1035.0 L1412.6,1035.3 L1414.4,1035.5 L1416.2,1035.7 L1418.0,1035.9 L1419.8,1036.2 L1421.6,1036.4 L1423.4,1036.6 L1425.2,1036.8 L1427.0,1037.0 L1428.8,1037.2 L1430.5,1037.4 L1432.3,1037.6 L1434.1,1037.7 L1435.9,1037.9 L1437.7,1038.1 L1439.5,1038.3 L1441.3,1038.4 L1443.1,1038.6 L1444.9,1038.7 L1446.6,1038.9 L1448.4,1039.0 L1450.2,1039.2 L1452.0,1039.3 L1453.8,1039.5 L1455.6,1039.6 L1457.4,1039.7 L1459.2,1039.9 L1461.0,1040.0 L1462.7,1040.1 L1464.5,1040.2 L1466.3,1040.3 L1468.1,1040.4 L1469.9,1040.5 L1471.7,1040.6 L1473.5,1040.7 L1475.3,1040.8 L1477.1,1040.9 L1478.8,1041.0 L1480.6,1041.1 L1482.4,1041.2 L1484.2,1041.3 L1486.0,1041.4 L1487.8,1041.4 L1489.6,1041.5 L1491.4,1041.6 L1493.2,1041.7 L1494.9,1041.7 L1496.7,1041.8 L1498.5,1041.8 L1500.3,1041.9 L1502.1,1042.0 L1503.9,1042.0 L1505.7,1042.1 L1507.5,1042.1 L1509.3,1042.2 L1511.0,1042.2 L1512.8,1042.3 L1514.6,1042.3 L1516.4,1042.3 L1518.2,1042.4 L1520.0,1042.4 L1521.8,1042.5 L1523.6,1042.5 L1525.4,1042.5 L1527.1,1042.6 L1528.9,1042.6 L1530.7,1042.6 L1532.5,1042.6 L1534.3,1042.7 L1536.1,1042.7 L1537.9,1042.7 L1539.7,1042.7 L1541.5,1042.8 L1543.3,1042.8 L1545.0,1042.8 L1546.8,1042.8 L1548.6,1042.8 L1550.4,1042.9 L1552.2,1042.9 L1554.0,1042.9 L1555.8,1042.9 L1557.6,1042.9 L1559.4,1042.9 L1561.2,1042.9 L1562.9,1043.0 L1564.7,1043.0 L1566.5,1043.0 L1568.3,1043.0 L1570.1,1043.0 L1571.9,1043.0 L1573.7,1043.0 L1575.5,1043.0 L1577.3,1043.0 L1579.1,1043.1 L1580.9,1043.1 L1582.6,1043.1 L1584.4,1043.1 L1586.2,1043.1 L1588.0,1043.1 L1589.8,1043.1 L1591.6,1043.1 L1593.4,1043.2 L1595.2,1043.2 L1597.0,1043.2 L1598.8,1043.2 L1600.6,1043.2 L1602.4,1043.2 L1604.1,1043.2 L1605.9,1043.2 L1607.7,1043.3 L1609.5,1043.3 L1611.3,1043.3 L1613.1,1043.3 L1614.9,1043.3 L1616.7,1043.3 L1618.5,1043.3 L1620.3,1043.3 L1622.1,1043.4 L1623.9,1043.4 L1625.7,1043.4 L1627.5,1043.4 L1629.2,1043.4 L1631.0,1043.4 L1632.8,1043.4 L1634.6,1043.5 L1636.4,1043.5 L1638.2,1043.5 L1640.0,1043.5 L1641.8,1043.5 L1643.6,1043.5 L1645.4,1043.5 L1647.2,1043.5 L1649.0,1043.6 L1650.8,1043.6 L1652.6,1043.6 L1654.4,1043.6 L1656.2,1043.6 L1657.9,1043.6 L1659.7,1043.6 L1661.5,1043.6 L1663.3,1043.7 L1665.1,1043.7 L1666.9,1043.7 L1668.7,1043.7 L1670.5,1043.7 L1672.3,1043.7 L1674.1,1043.7 L1675.9,1043.7 L1677.7,1043.8 L1679.5,1043.8 L1681.3,1043.8 L1683.1,1043.8 L1684.9,1043.8 L1686.7,1043.8 L1688.4,1043.8 L1690.2,1043.8 L1692.0,1043.8 L1693.8,1043.9 L1695.6,1043.9 L1697.4,1043.9 L1699.2,1043.9 L1701.0,1043.9 L1702.8,1043.9 L1704.6,1043.9 L1706.4,1043.9 L1708.2,1043.9 L1710.0,1043.9 L1711.8,1044.0 L1713.6,1044.0 L1715.4,1044.0 L1717.2,1044.0 L1719.0,1044.0 L1720.7,1044.0 L1722.5,1044.0 L1724.3,1044.0 L1726.1,1044.0 L1727.9,1044.0 L1729.7,1044.0 L1731.5,1044.0 L1733.3,1044.1 L1735.1,1044.1 L1736.9,1044.1 L1738.7,1044.1 L1740.5,1044.1 L1742.3,1044.1 L1744.1,1044.1 L1745.9,1044.1 L1747.7,1044.1 L1749.4,1044.1 L1751.2,1044.1 L1753.0,1044.1 L1754.8,1044.1 L1756.6,1044.1 L1758.4,1044.1 L1760.2,1044.1 L1762.0,1044.1 L1763.8,1044.2 L1765.6,1044.2 L1767.4,1044.2 L1769.2,1044.2 L1771.0,1044.2 L1772.8,1044.2 L1774.5,1044.2 L1776.3,1044.2 L1778.1,1044.2 L1779.9,1044.2 L1781.7,1044.2 L1783.5,1044.2 L1785.3,1044.2 L1787.1,1044.2 L1788.9,1044.2 L1790.7,1044.2 L1792.5,1044.2 L1794.3,1044.2 L1796.0,1044.2 L1797.8,1044.2 L1799.6,1044.2 L1801.4,1044.2 L1803.2,1044.2 L1805.0,1044.2 L1806.8,1044.2 L1808.6,1044.2 L1810.4,1044.1 L1812.2,1044.1 L1814.0,1044.1 L1815.7,1044.1 L1817.5,1044.1 L1819.3,1044.1 L1821.1,1044.1 L1822.9,1044.1 L1824.7,1044.1 L1826.5,1044.1 L1828.3,1044.1 L1830.1,1044.1 L1831.9,1044.1 L1833.6,1044.1 L1835.4,1044.1 L1837.2,1044.0 L1839.0,1044.0 L1840.8,1044.0 L1842.6,1044.0 L1844.4,1044.0 L1846.2,1044.0 L1848.0,1044.0" fill="none" stroke="#e00000" stroke-width="3" stroke-linejoin="round"/>
<text transform="translate(141,88) scale(1,0.965)" text-anchor="end" font-family="Carlito, 'Liberation Sans', sans-serif" font-size="35" fill="#767676" textLength="53.22" lengthAdjust="spacingAndGlyphs">100</text>
<text transform="translate(141,281.6) scale(1,0.965)" text-anchor="end" font-family="Carlito, 'Liberation Sans', sans-serif" font-size="35" fill="#767676" textLength="35.48" lengthAdjust="spacingAndGlyphs">80</text>
<text transform="translate(141,474.6) scale(1,0.965)" text-anchor="end" font-family="Carlito, 'Liberation Sans', sans-serif" font-size="35" fill="#767676" textLength="35.48" lengthAdjust="spacingAndGlyphs">60</text>
<text transform="translate(141,667.9) scale(1,0.965)" text-anchor="end" font-family="Carlito, 'Liberation Sans', sans-serif" font-size="35" fill="#767676" textLength="35.48" lengthAdjust="spacingAndGlyphs">40</text>
<text transform="translate(141,861.2) scale(1,0.965)" text-anchor="end" font-family="Carlito, 'Liberation Sans', sans-serif" font-size="35" fill="#767676" textLength="35.48" lengthAdjust="spacingAndGlyphs">20</text>
<text transform="translate(141,1054.5) scale(1,0.965)" text-anchor="end" font-family="Carlito, 'Liberation Sans', sans-serif" font-size="35" fill="#767676" textLength="17.75" lengthAdjust="spacingAndGlyphs">0</text>
<text transform="translate(174,1100) scale(1,0.965)" text-anchor="middle" font-family="Carlito, 'Liberation Sans', sans-serif" font-size="35" fill="#767676" textLength="44.33" lengthAdjust="spacingAndGlyphs">4.5</text>
<text transform="translate(509,1100) scale(1,0.965)" text-anchor="middle" font-family="Carlito, 'Liberation Sans', sans-serif" font-size="35" fill="#767676" textLength="44.33" lengthAdjust="spacingAndGlyphs">4.6</text>
<text transform="translate(843.3,1100) scale(1,0.965)" text-anchor="middle" font-family="Carlito, 'Liberation Sans', sans-serif" font-size="35" fill="#767676" textLength="44.33" lengthAdjust="spacingAndGlyphs">4.7</text>
<text transform="translate(1178.1,1100) scale(1,0.965)" text-anchor="middle" font-family="Carlito, 'Liberation Sans', sans-serif" font-size="35" fill="#767676" textLength="44.33" lengthAdjust="spacingAndGlyphs">4.8</text>
<text transform="translate(1512.8,1100) scale(1,0.965)" text-anchor="middle" font-family="Carlito, 'Liberation Sans', sans-serif" font-size="35" fill="#767676" textLength="44.33" lengthAdjust="spacingAndGlyphs">4.9</text>
<text transform="translate(1848,1100) scale(1,0.965)" text-anchor="middle" font-family="Carlito, 'Liberation Sans', sans-serif" font-size="35" fill="#767676" textLength="44.33" lengthAdjust="spacingAndGlyphs">5.0</text>
<text transform="translate(975,1175) scale(1,1.0)" text-anchor="middle" font-family="Carlito, 'Liberation Sans', sans-serif" font-size="33.6" fill="#767676" textLength="235.47" lengthAdjust="spacingAndGlyphs">Wavelength / µm</text>
<text transform="translate(84,560) rotate(-90)" text-anchor="middle" font-family="Carlito, 'Liberation Sans', sans-serif" font-size="35.2" fill="#767676" textLength="239.11" lengthAdjust="spacingAndGlyphs">Transmission / %</text>
<text transform="translate(213,222) scale(1,0.97)" text-anchor="start" font-family="Carlito, 'Liberation Sans', sans-serif" font-size="36" font-weight="bold" fill="#7b7b7b" textLength="272.72" lengthAdjust="spacingAndGlyphs">Peak-Transmission</text>
<text transform="translate(225.5,628) scale(1,0.97)" text-anchor="start" font-family="Carlito, 'Liberation Sans', sans-serif" font-size="36" font-weight="bold" fill="#7b7b7b" textLength="410.07" lengthAdjust="spacingAndGlyphs">50 % der Peak-Transmission</text>
<text transform="translate(1045,747) scale(1,0.97)" text-anchor="start" font-family="Carlito, 'Liberation Sans', sans-serif" font-size="36" font-weight="bold" fill="#7b7b7b" textLength="94.12" lengthAdjust="spacingAndGlyphs">HPBW</text>
<text transform="translate(928,1095) scale(1,0.97)" text-anchor="start" font-family="Carlito, 'Liberation Sans', sans-serif" font-size="36" font-weight="bold" fill="#7b7b7b" textLength="66.89" lengthAdjust="spacingAndGlyphs">CWL</text>
<text x="776" y="1038" font-family="'Liberation Sans', Arial, sans-serif" font-weight="bold" font-size="36" fill="#7b7b7b">λ<tspan font-size="20">cut-on</tspan></text>
<text x="1208" y="1038" font-family="'Liberation Sans', Arial, sans-serif" font-weight="bold" font-size="36" fill="#7b7b7b">λ<tspan font-size="20">cut-off</tspan></text>
</svg>
</body></html>
